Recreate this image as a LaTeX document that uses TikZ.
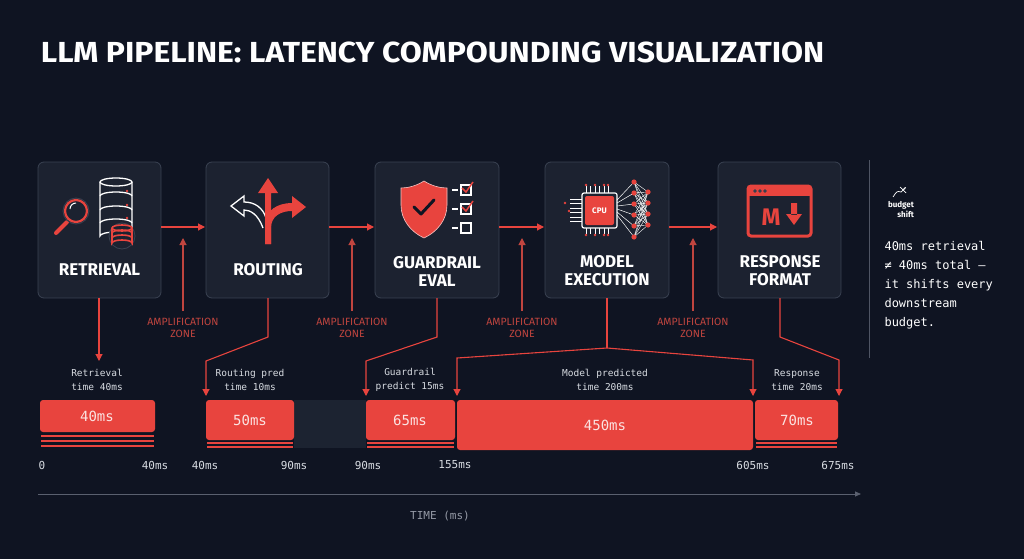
\documentclass[tikz,border=0pt]{standalone}
\usepackage{fontspec}
\setmainfont{Fira Sans}
\newfontfamily\mono{DejaVu Sans Mono}
\newfontfamily\hd{Fira Sans}
\usetikzlibrary{arrows.meta}
\definecolor{bg}{HTML}{0F1422}
\definecolor{card}{HTML}{1C2230}
\definecolor{cardline}{HTML}{3A4252}
\definecolor{rd}{HTML}{E8443E}
\definecolor{rdd}{HTML}{C0453F}
\definecolor{tx}{HTML}{D8DCE2}
\definecolor{gr}{HTML}{7A8090}
\definecolor{band}{HTML}{1C2331}
\tikzset{
 card/.style={draw=cardline,fill=card,rounded corners=6pt,line width=0.8pt},
 ttl/.style={text=white,font=\hd\bfseries\fontsize{17}{18}\selectfont,align=center},
 conn/.style={draw=rd,line width=1.1pt},
 arr/.style={conn,-{Triangle[length=7pt,width=7pt]}},
 amp/.style={text=rdd,font=\hd\fontsize{10.5}{12.5}\selectfont,align=center},
 small/.style={text=tx,font=\mono\fontsize{9.5}{14}\selectfont,align=center},
 bar/.style={fill=rd,rounded corners=3pt},
 bartx/.style={text=white!85!rd,font=\mono\fontsize{14}{14}\selectfont},
 ax/.style={text=tx,font=\mono\fontsize{11}{11}\selectfont},
 ic/.style={line width=1.6pt},
}
\begin{document}
\begin{tikzpicture}[x=1pt,y=-1pt]
\fill[bg] (0,0) rectangle (1024,559);
\useasboundingbox (0,0) rectangle (1024,559);
\node[anchor=west,text=white,font=\hd\bfseries\fontsize{29}{29}\selectfont,xscale=1.1] (title) at (37,52) {LLM PIPELINE: LATENCY COMPOUNDING VISUALIZATION};
% cards
\draw[card] (38,162) rectangle (161,298);
\draw[card] (206,162) rectangle (329,298);
\draw[card] (375,162) rectangle (499,298);
\draw[card] (545,162) rectangle (669,298);
\draw[card] (718,162) rectangle (841,298);
\node[ttl] (t1) at (99.5,270) {RETRIEVAL};
\node[ttl] (t2) at (268,270) {ROUTING};
\node[ttl] (t3) at (437,271) {GUARDRAIL\\EVAL};
\node[ttl] (t4) at (607,271) {MODEL\\EXECUTION};
\node[ttl] (t5) at (780,271) {RESPONSE\\FORMAT};
% icons: retrieval
\begin{scope}[ic]
 \draw[white,line width=1.3pt] (100,182) -- (100,236) arc[start angle=180,end angle=360,x radius=16,y radius=4] -- (132,182);
 \draw[white,line width=1.3pt] (116,182) ellipse[x radius=16,y radius=4];
 \foreach \y in {196,210,223}{\draw[white,line width=1.3pt] (100,\y) arc[start angle=180,end angle=360,x radius=16,y radius=4];}
 \foreach \y in {191,205,218} \fill[rd] (127,\y) circle (1.3);
 \fill[card] (122,236) ellipse[x radius=13,y radius=13];
 \draw[rd] (122,228) ellipse[x radius=10,y radius=3];
 \draw[rd] (112,228) -- (112,243) arc[start angle=180,end angle=360,x radius=10,y radius=3] -- (132,228);
 \draw[rd] (112,233) arc[start angle=180,end angle=360,x radius=10,y radius=3];
 \draw[rd] (112,238) arc[start angle=180,end angle=360,x radius=10,y radius=3];
 \draw[rd,line width=4pt,line cap=round] (67,222) -- (56,233);
 \fill[card] (76,211) circle (13);
 \draw[rd,line width=2.2pt] (76,211) circle (11);
 \draw[white,line width=1pt] (70,209) arc[start angle=180,end angle=270,radius=6];
\end{scope}
% routing
\begin{scope}
 \draw[white,line width=1.3pt] (263,228) .. controls (258,214) and (250,210) .. (244,210) -- (244,216) -- (231,206) -- (244,196) -- (244,202) .. controls (255,202) and (263,208) .. (266,218);
 \fill[rd] (265,244) -- (265,193) -- (258,193) -- (268,178) -- (278,193) -- (271,193) -- (271,244) -- cycle;
 \fill[rd] (265,244) -- (265,225) .. controls (265,210) and (278,203) .. (292,203) -- (292,196) -- (306,207) -- (292,218) -- (292,211) .. controls (281,211) and (271,216) .. (271,228) -- (271,244) -- cycle;
\end{scope}
% guardrail
\begin{scope}
 \fill[rd,draw=white!70!rd,line width=0.6pt] (424,181) .. controls (432,186) and (440,188) .. (447,188) -- (447,205) .. controls (447,220) and (437,232) .. (424,238) .. controls (411,232) and (401,220) .. (401,205) -- (401,188) .. controls (408,188) and (416,186) .. (424,181) -- cycle;
 \draw[bg,line width=3pt,line cap=round,line join=round] (414,207) -- (421,214) -- (434,200);
 \foreach \y/\c in {192/1,211/1,230/0}{
  \draw[white,line width=1.1pt] (461,\y+3) rectangle (471,\y-7);
  \draw[white,line width=1.1pt] (452,\y-2) -- (458,\y-2);
  \ifnum\c=1 \draw[rd,line width=1.5pt] (462,\y-4) -- (466,\y) -- (473,\y-10);\fi
 }
\end{scope}
% model
\begin{scope}
 \foreach \i in {0,...,5}{
  \draw[white,line width=0.7pt] (586+\i*4.5,196) -- (586+\i*4.5,186);
  \draw[white,line width=0.7pt] (586+\i*4.5,224) -- (586+\i*4.5,234);
  \draw[white,line width=0.7pt] (583,199+\i*4.5) -- (570,199+\i*4.5);}
 \foreach \x in {586,595,604,608}{\fill[rd] (\x,185) circle (1.4); \fill[rd] (\x,235) circle (1.4);}
 \fill[rd] (569,211) circle (1.4); \fill[rd] (565,203) circle (1.4);
 \draw[white,line width=1.2pt,rounded corners=2pt,fill=card] (582,193) rectangle (617,228);
 \fill[rd,rounded corners=2pt] (585,196) rectangle (614,225);
 \node[text=white,font=\hd\bfseries\fontsize{8}{8}\selectfont] (cpu) at (599.5,210.5) {CPU};
 \foreach \a in {0,...,5}{\foreach \b in {0,...,3}{\draw[white,line width=0.4pt] (634,182+\a*11) -- (648,192+\b*11);}
   \draw[white,line width=0.5pt] (617,200+\a*3) -- (634,182+\a*11);}
 \foreach \a in {0,...,5}\fill[rd] (634,182+\a*11) circle (2.6);
 \foreach \b in {0,...,3}\fill[rd] (648,192+\b*11) circle (2.6);
\end{scope}
% response
\begin{scope}
 \draw[rd,line width=3pt,rounded corners=3pt] (748,186) rectangle (811,236);
 \fill[rd] (748,186) rectangle (811,196);
 \foreach \x in {755,760,765} \fill[card] (\x,191) circle (1.3);
 \node[text=rd,font=\hd\bfseries\fontsize{24}{24}\selectfont] (md) at (771,217) {M};
 \fill[rd] (791,203) rectangle (797,215) (786,214) -- (802,214) -- (794,225) -- cycle;
\end{scope}
% horizontal arrows
\draw[arr] (161,227) -- (205,227);
\draw[arr] (329,227) -- (374,227);
\draw[arr] (499,227) -- (544,227);
\draw[arr] (669,227) -- (717,227);
% amplification
\foreach \x in {183,352,522,693}{\draw[arr,draw=rdd] (\x,311) -- (\x,238);
 \node[amp] at (\x,328) {AMPLIFICATION\\ZONE};}
% band
\fill[band] (294,400) rectangle (366,448);
% bars
\fill[rd,rounded corners=3pt] (40,400) rectangle (155,432);
\foreach \y in {437,442,447}\fill[rd] (41,\y-2) rectangle (154,\y);
\fill[bar] (206,400) rectangle (294,440);
\foreach \y in {444,448}\fill[rd] (207,\y-2) rectangle (293,\y);
\fill[bar] (366,400) rectangle (455,440);
\foreach \y in {444,448}\fill[rd] (367,\y-2) rectangle (454,\y);
\fill[bar] (457,400) rectangle (753,450);
\fill[bar] (755,400) rectangle (838,440);
\foreach \y in {444,448}\fill[rd] (756,\y-2) rectangle (837,\y);
\node[bartx] (b1) at (97,416) {40ms};
\node[bartx] (b2) at (250,420) {50ms};
\node[bartx] (b3) at (410,420) {65ms};
\node[bartx] (b4) at (605,425) {450ms};
\node[bartx] (b5) at (797,420) {70ms};
% connectors
\draw[arr] (99,298) -- (99,361);
\draw[arr] (268,298) -- (268,337) -- (206,361) -- (206,396);
\draw[arr] (437,298) -- (437,337) -- (366,361) -- (366,396);
\draw[conn] (607,298) -- (607,348);
\draw[arr] (607,348) -- (457,358) -- (457,396);
\draw[arr] (607,348) -- (753,360) -- (753,396);
\draw[arr] (780,298) -- (780,337) -- (839,360) -- (839,396);
% labels
\node[small] at (97,380) {Retrieval\\time 40ms};
\node[small] at (250,380) {Routing pred\\time 10ms};
\node[small] at (410,380) {Guardrail\\predict 15ms};
\node[small] at (605,380) {Model predicted\\time 200ms};
\node[small] at (797,380) {Response\\time 20ms};
% axis labels
\node[ax,anchor=west] at (35,465) {0};
\foreach \x/\t in {155/40ms,205/40ms,294/90ms,368/90ms,455/155ms,753/605ms,838/675ms}\node[ax] at (\x,465) {\t};
\draw[gr!70!bg,line width=0.8pt,-{Triangle[length=6pt,width=5pt]}] (38,494) -- (861,494);
\node[text=gr!80!white,font=\mono\fontsize{11}{11}\selectfont] (time) at (440,516) {TIME (ms)};
% right note
\draw[gr!60!bg,line width=0.8pt] (869,160) -- (869,358);
\draw[white,line width=0.7pt,-{Stealth[length=3pt]}] (893,197) .. controls (897,191) .. (901,192) -- (906,187);
\draw[white,line width=0.7pt] (900,187) -- (906,193);
\node[text=white,font=\hd\bfseries\fontsize{8}{10}\selectfont,align=right] (bs) at (901,210) {budget\\shift};
\node[anchor=north west,text=white,font=\mono\fontsize{12}{19}\selectfont,align=left] (note) at (881,238) {40ms retrieval\\≠ 40ms total —\\it shifts every\\downstream\\budget.};
\end{tikzpicture}
\end{document}
